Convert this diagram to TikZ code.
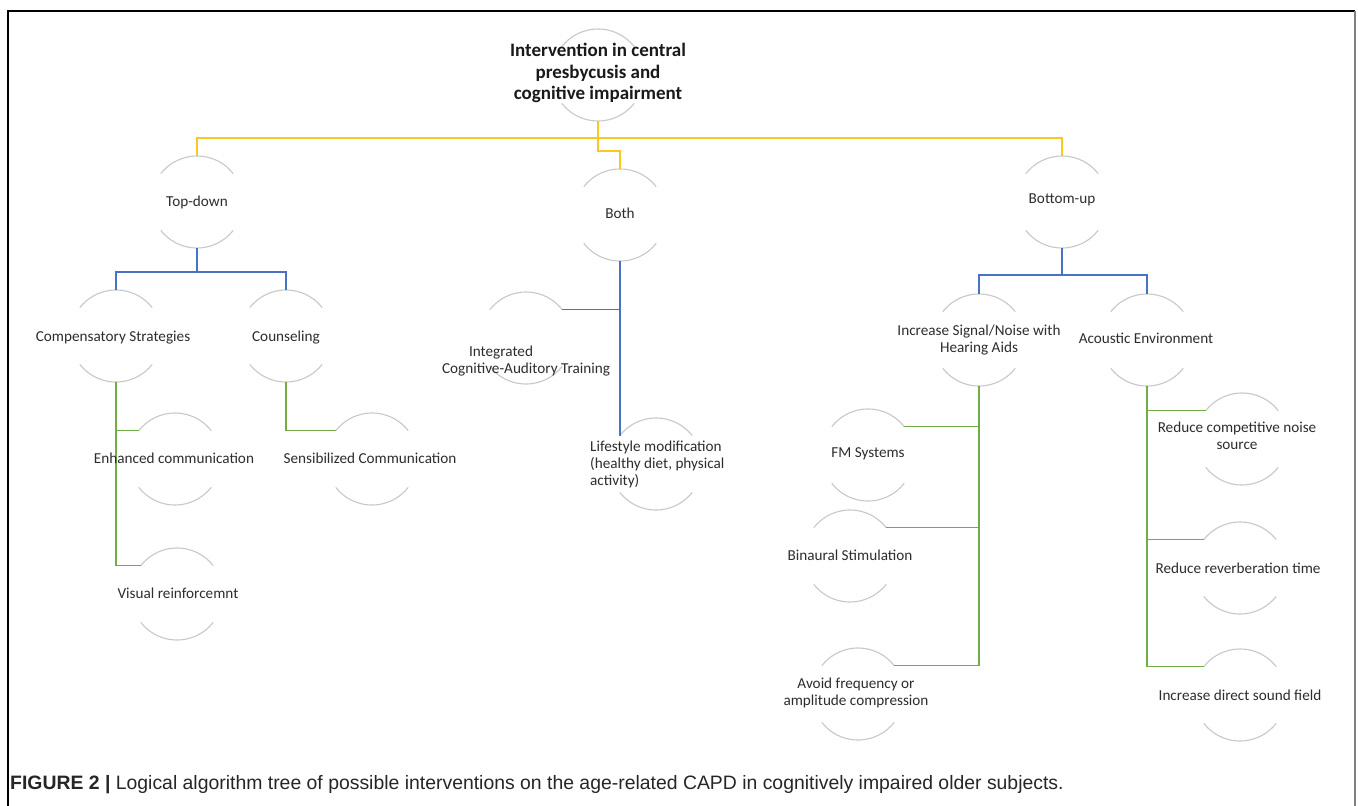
\documentclass[tikz,border=0pt]{standalone}
\usepackage{fontspec}
\setmainfont{Carlito}
\newfontfamily\capfont{Liberation Sans}
\usetikzlibrary{calc}
\definecolor{yl}{RGB}{250,200,30}
\definecolor{bl}{RGB}{72,114,196}
\definecolor{gr}{RGB}{112,173,71}
\definecolor{arcg}{RGB}{200,200,200}
\definecolor{txtc}{RGB}{45,45,45}
\newcommand\ringarcs[1]{%
  \draw[arcline] (#1.38) arc[start angle=38,end angle=142,radius=46];
  \draw[arcline] (#1.218) arc[start angle=218,end angle=322,radius=46];}
\begin{document}
\begin{tikzpicture}[x=1pt,y=1pt,
  ring/.style={circle,minimum size=92pt,inner sep=0pt,outer sep=0pt,draw=none},
  arcline/.style={draw=arcg,line width=1.1pt},
  lbl/.style={inner sep=0pt,text=txtc,font=\fontsize{15.2}{17}\selectfont,align=center},
  ylc/.style={draw=yl,line width=1.5pt},
  blc/.style={draw=bl,line width=1.5pt},
  grc/.style={draw=gr,line width=1.5pt}]
\useasboundingbox (0,0) rectangle (1358,-806);
\fill[white] (0,0) rectangle (1358,-806);
\draw[black,line width=1.3pt] (8,-806) -- (8,-11) -- (1355,-11);
\draw[gray,line width=2pt] (1355,-11) -- (1355,-806);
% rings
\node[ring] (root) at (598,-75) {};
\node[ring] (td) at (197,-202) {};
\node[ring] (both) at (620,-215) {};
\node[ring] (bu) at (1062,-202) {};
\node[ring] (cs) at (116,-336) {};
\node[ring] (co) at (286,-336) {};
\node[ring] (ec) at (175,-459) {};
\node[ring] (sc) at (372,-459) {};
\node[ring] (vr) at (177,-594) {};
\node[ring] (ic) at (526,-338) {};
\node[ring] (ls) at (656,-464) {};
\node[ring] (isn) at (979,-340) {};
\node[ring] (ae) at (1147,-340) {};
\node[ring] (fm) at (868,-455) {};
\node[ring] (bs) at (850,-556) {};
\node[ring] (af) at (858,-694) {};
\node[ring] (rc) at (1242,-439) {};
\node[ring] (rr) at (1240,-568) {};
\node[ring] (id) at (1240,-695) {};
\foreach \n in {root,td,both,bu,cs,co,ec,sc,vr,ic,ls,isn,ae,fm,bs,af,rc,rr,id}{\ringarcs{\n}}
% connectors
\draw[ylc] (root.south) -- ++(0,-17) coordinate (yj);
\draw[ylc] (yj) -| (td.north);
\draw[ylc] (yj) -| (bu.north);
\draw[ylc] (yj) -- ++(0,-13) -| (both.north);
\draw[blc] (td.south) -- ++(0,-24) coordinate (bj1);
\draw[blc] (bj1) -| (cs.north);
\draw[blc] (bj1) -| (co.north);
\draw[blc] (bu.south) -- ++(0,-27) coordinate (bj2);
\draw[blc] (bj2) -| (isn.north);
\draw[blc] (bj2) -| (ae.north);
\draw[blc] (both.south) -- (both.south |- ls.142);
\draw[blc] (both.south |- ic.38) -- (ic.38);
\draw[grc] (cs.south) -- (cs.south |- vr.142) -- (vr.142);
\draw[grc] (cs.south |- ec.142) -- (ec.142);
\draw[grc] (co.south) |- (sc.142);
\draw[grc] (isn.south) -- (isn.south |- af.38) -- (af.38);
\draw[grc] (isn.south |- fm.38) -- (fm.38);
\draw[grc] (isn.south |- bs.38) -- (bs.38);
\draw[grc] (ae.south) -- (ae.south |- id.142) -- (id.142);
\draw[grc] (ae.south |- rc.142) -- (rc.142);
\draw[grc] (ae.south |- rr.142) -- (rr.142);
% labels
\node[lbl,font=\bfseries\fontsize{19}{21.7}\selectfont,text=black!90] (rootT) at (598,-73) {Intervention in central\\presbycusis and\\cognitive impairment};
\node[lbl] (tdT) at (197,-202) {Top-down};
\node[lbl] (bothT) at (620,-213) {Both};
\node[lbl] (buT) at (1062,-200) {Bottom-up};
\node[lbl] (csT) at (113,-338) {Compensatory Strategies};
\node[lbl] (coT) at (286,-338) {Counseling};
\node[lbl] (ecT) at (174,-458) {Enhanced communication};
\node[lbl] (scT) at (370,-458) {Sensibilized Communication};
\node[lbl] (vrT) at (178,-593) {Visual reinforcemnt};
\node[lbl] (icT) at (526,-361) {Integrated\hspace*{50pt}\\Cognitive-Auditory Training};
\node[lbl,align=left,anchor=west] (lsT) at (590,-464) {Lifestyle modification\\(healthy diet, physical\\activity)};
\node[lbl] (isnT) at (979,-340) {Increase Signal/Noise with\\Hearing Aids};
\node[lbl] (aeT) at (1146,-338) {Acoustic Environment};
\node[lbl] (fmT) at (868,-454) {FM Systems};
\node[lbl] (bsT) at (850,-555) {Binaural Stimulation};
\node[lbl] (afT) at (856,-693) {Avoid frequency or\\amplitude compression};
\node[lbl] (rcT) at (1237,-436) {Reduce competitive noise\\source};
\node[lbl] (rrT) at (1238,-568) {Reduce reverberation time};
\node[lbl] (idT) at (1240,-695) {Increase direct sound field};
\node[anchor=west,inner sep=0pt,font=\capfont\fontsize{19.4}{22}\selectfont,text=black!85] (cap) at (10,-785) {{\bfseries FIGURE 2 |} Logical algorithm tree of possible interventions on the age-related CAPD in cognitively impaired older subjects.};
\end{tikzpicture}
\end{document}
